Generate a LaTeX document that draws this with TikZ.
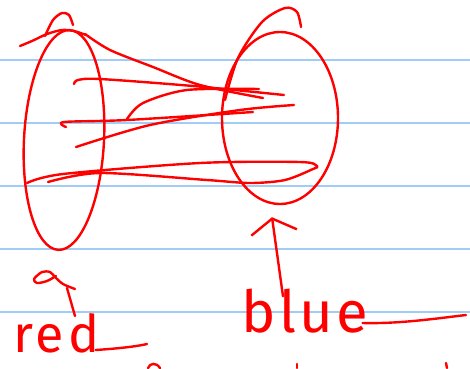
\documentclass[tikz,border=0pt]{standalone}
\usepackage{fontspec}
\setmainfont{Fira Sans}
\usetikzlibrary{shapes.geometric,arrows.meta}
\definecolor{penred}{RGB}{255,0,0}
\definecolor{ruled}{RGB}{160,204,245}
\tikzset{
  pen/.style={draw=penred,line width=2.4pt,line cap=round,line join=round},
  setring/.style={ellipse,pen,inner sep=0pt},
  handword/.style={text=penred,font=\fontsize{58}{58}\selectfont\addfontfeature{LetterSpace=6},inner sep=0pt,anchor=base west},
  paperline/.style={draw=ruled,line width=1.6pt},
}
\begin{document}
\begin{tikzpicture}[x=1pt,y=-1pt]
\useasboundingbox (0,0) rectangle (470,368);
% ruled paper
\foreach \yy in {60,123,186,249,312}
  \draw[paperline] (0,\yy) -- (470,\yy);
% the two sets
\node[setring,minimum width=80pt,minimum height=220pt,rotate=-3] (redset) at (64,140) {};
\node[setring,minimum width=116pt,minimum height=172pt] (blueset) at (280,118) {};
\draw[pen] plot[smooth] coordinates {(20,46) (32,41) (47,34) (62,30) (74,31) (86,35)};
\draw[pen] plot[smooth] coordinates {(45,36) (53,20) (62,13) (69,15) (73,25)};
\draw[pen] plot[smooth] coordinates {(225,100) (238,58) (262,22) (285,8) (297,12) (301,27)};
% strokes from red to blue
\draw[pen] plot[smooth] coordinates {(85,34) (110,50) (153,67) (200,85) (263,98)};
\draw[pen] plot[smooth] coordinates {(74,84) (78,80) (100,79) (193,86) (284,95)};
\draw[pen] plot[smooth] coordinates {(127,119) (143,103) (187,90) (259,89)};
\draw[pen] plot[smooth] coordinates {(66,127) (64,122) (127,120) (253,112)};
\draw[pen] plot[smooth] coordinates {(76,147) (150,125) (240,110) (294,105)};
\draw[pen] plot[smooth] coordinates {(27,183) (63,174) (200,163) (300,162) (317,166)
  (313,169) (285,180) (250,183) (207,180) (100,173) (48,182)};
% labels
\node[handword,font=\fontsize{52}{52}\selectfont\addfontfeature{LetterSpace=8}] (redlbl) at (13,352) {red};
\node[handword] (bluelbl) at (241,332) {blue};
\draw[pen] ([xshift=-4pt,yshift=2pt]redlbl.base east) .. controls (125,348) and (138,346) .. (147,344);
\draw[pen] ([xshift=-6pt,yshift=9pt]bluelbl.base east) .. controls (400,324) and (440,318) .. (466,315);
% arrows
\coordinate (redtail) at (75,316);
\coordinate (redhead) at (67,288);
\draw[pen] (redtail) -- (redhead);
\draw[pen] plot[smooth] coordinates {(75,289) (63,284) (55,277) (50,272) (42,272) (34,279) (37,283) (47,281) (56,276)};
\draw[pen,-{Straight Barb[length=14pt,width=46pt]}] ([xshift=42pt,yshift=-8pt]bluelbl.north west) -- ([xshift=-8pt,yshift=-12pt]blueset.south);
% cut-off strokes at the bottom edge
\draw[pen] (148,368) .. controls (150,363) and (156,362) .. (160,368);
\draw[pen] (297,364) -- (297,368);
\draw[pen] (446,363) -- (447,368);
\end{tikzpicture}
\end{document}
